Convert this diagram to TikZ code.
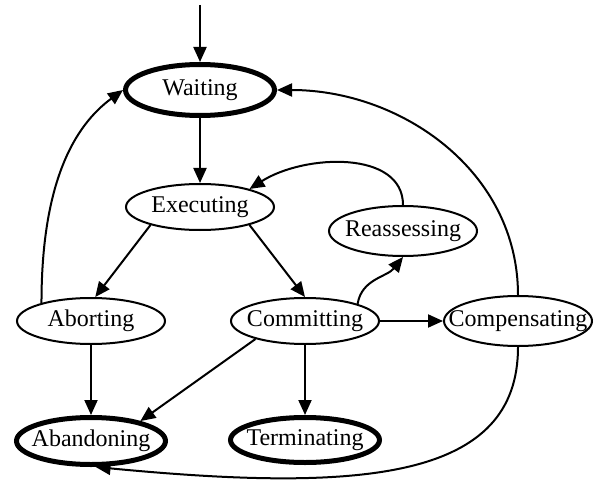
\documentclass[tikz,border=0pt]{standalone}
\usepackage{fontspec}
\setmainfont{Liberation Serif}
\usetikzlibrary{shapes.geometric,arrows.meta}

\begin{document}
\begin{tikzpicture}[x=1pt,y=1pt,
		state/.style={ellipse,draw,line width=2pt,minimum width=148pt,minimum height=46pt,
			inner xsep=-25pt,inner ysep=0pt,font=\fontsize{24}{28}\selectfont},
		final/.style={state,line width=5pt,minimum width=149pt,minimum height=47pt},
		trans/.style={line width=2pt,-{Triangle[length=15pt,width=13pt]}}]
		\useasboundingbox (0,0) rectangle (599,-481);
		% states
		\coordinate (init) at (200,-5);
		\node[final,minimum height=51pt] (wait) at (200,-90) {Waiting};
		\node[state] (exec) at (200,-207) {Executing};
		\node[state,minimum height=50pt] (reas) at (403,-231) {Reassessing};
		\node[state] (abort) at (91,-321) {Aborting};
		\node[state] (commit) at (305,-321) {Committing};
		\node[state,minimum height=50pt] (comp) at (518,-321) {Compensating};
		\node[final] (aband) at (91,-441) {Abandoning};
		\node[final,minimum height=45pt] (term) at (305,-440) {Terminating};
		% straight transitions
		\draw[trans] (init) -- (wait);
		\draw[trans] (wait) -- (exec);
		\draw[trans] (exec.200) -- (abort.80);
		\draw[trans] (exec.340) -- (commit.north);
		\draw[trans] (abort) -- (aband);
		\draw[trans] (commit) -- (term);
		\draw[trans] (commit.200) -- (aband.22);
		\draw[trans] (commit) -- (comp);
		% curved transitions
		\draw[trans] (commit.18) .. controls +(4,25) and +(-16,-20) .. (reas.south);
		\draw[trans] (reas.north) .. controls +(0,55) and +(55,35) .. (exec.20);
		\draw[trans] (abort.160) .. controls +(0,120) and +(-49,-36) .. (wait.west);
		\draw[trans] (comp.north) .. controls +(0,124) and +(124,0) .. (wait.east);
		\draw[trans] (comp.south) .. controls +(0,-132) and +(270,-26) .. (aband.280);
	\end{tikzpicture}
\end{document}
